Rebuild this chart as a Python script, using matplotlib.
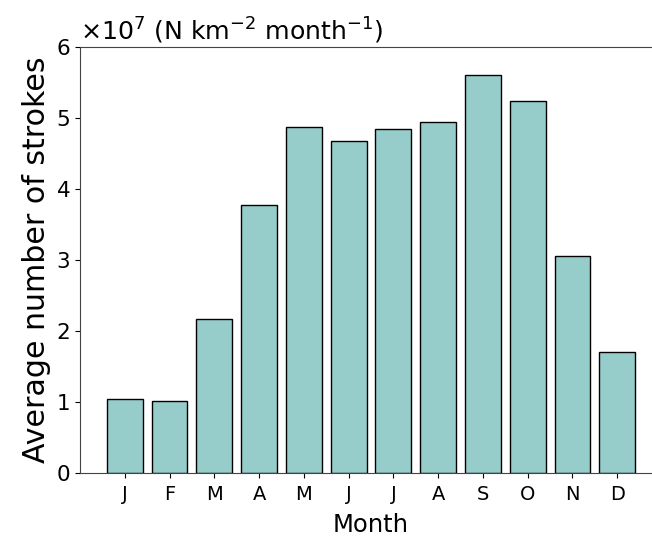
import matplotlib
matplotlib.use("Agg")
import matplotlib.pyplot as plt

months = ["J", "F", "M", "A", "M", "J", "J", "A", "S", "O", "N", "D"]
strokes = [1.04, 1.01, 2.17, 3.77, 4.87, 4.68, 4.84, 4.95, 5.60, 5.24, 3.06, 1.70]

fig = plt.figure(figsize=(6.52, 5.38), dpi=100)
ax = fig.add_axes([0.1227, 0.1208, 0.8926, 0.7918])
x = list(range(len(months)))
ax.bar(x, strokes, width=0.8, color="#96cdcb", edgecolor="black", linewidth=1.0)
ax.set_xlim(-1, 12)
ax.set_ylim(0, 6)
ax.set_xticks(x)
ax.set_xticklabels(months)
ax.set_yticks(range(0, 7))
ax.tick_params(axis="x", labelsize=14, pad=5)
ax.tick_params(axis="y", labelsize=15.5)
for s in ax.spines.values():
    s.set_color("#444444")
ax.set_xlabel("Month", fontsize=17.5, labelpad=6.5)
ax.set_ylabel("Average number of strokes", fontsize=21.6)
ax.text(0.0, 1.003, r"$\times10^{7}$ (N km$^{-2}$ month$^{-1}$)", transform=ax.transAxes,
        fontsize=18.2, ha="left", va="bottom")
fig.savefig("out.png", dpi=100)
